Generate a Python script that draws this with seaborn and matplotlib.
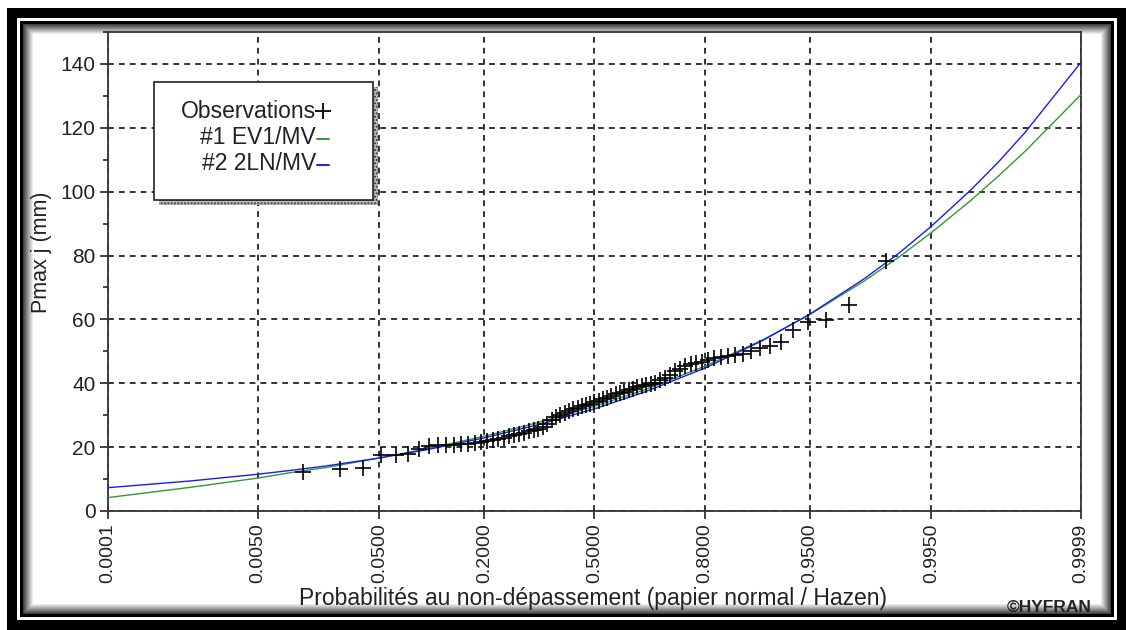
import numpy as np
import pandas as pd
import seaborn as sns
import matplotlib.pyplot as plt
import matplotlib as mpl
from matplotlib.patches import Rectangle
from matplotlib.lines import Line2D
from statistics import NormalDist

# observed maxima (mm), sorted
obs_values = [12.3, 13.0, 13.6, 17.4, 17.5, 18.0, 19.4, 20.5, 20.6, 20.6,
              20.7, 20.9, 21.1, 21.3, 21.6, 21.8, 22.2, 22.5, 23.0, 23.4,
              23.8, 24.2, 24.5, 24.9, 25.3, 25.6, 26.3, 27.4, 28.6, 29.5,
              30.0, 30.6, 31.4, 32.0, 32.3, 32.8, 33.1, 33.4, 34.2, 34.6,
              35.0, 35.5, 36.0, 36.5, 36.9, 37.3, 37.8, 38.3, 38.8, 39.2,
              39.5, 39.8, 40.2, 41.0, 41.8, 42.5, 43.8, 44.6, 45.3, 45.9,
              46.3, 46.7, 47.2, 47.8, 48.2, 48.5, 48.8, 49.3, 50.0, 51.0,
              51.7, 52.9, 56.6, 59.2, 59.9, 64.4, 78.2]

# fitted curves
curve_prob = [0.0001, 0.001, 0.005, 0.01, 0.02, 0.05, 0.1, 0.2, 0.35, 0.5,
              0.65, 0.8, 0.9, 0.95, 0.98, 0.99, 0.995, 0.998, 0.999, 0.9995, 0.9999]
ev1_values = [4.2, 7.4, 10.3, 12.0, 13.6, 16.6, 19.5, 23.4, 28.2, 32.8,
              38.0, 45.3, 53.5, 61.5, 71.8, 79.5, 87.2, 97.3, 105.0, 112.6, 130.4]
ln2_values = [7.3, 9.4, 11.5, 12.7, 14.1, 16.6, 19.2, 22.9, 27.5, 32.0,
              37.3, 44.7, 53.3, 61.6, 72.5, 80.7, 89.2, 100.6, 109.4, 118.5, 140.5]

tick_probs = [0.0001, 0.005, 0.05, 0.2, 0.5, 0.8, 0.95, 0.995, 0.9999]
tick_labels = ['0.0001', '0.0050', '0.0500', '0.2000', '0.5000',
               '0.8000', '0.9500', '0.9950', '0.9999']

W, H = 1126, 630


def fx(px):
    return px / W


def fy(py):
    return 1 - py / H


nd = NormalDist()
_ppf = np.vectorize(nd.inv_cdf, otypes=[float])
_cdf = np.vectorize(nd.cdf, otypes=[float])


def forward(p):
    return _ppf(np.clip(p, 1e-12, 1 - 1e-12))


def inverse(z):
    return _cdf(z)


sns.set_style('white')
plt.rcParams['font.family'] = ['Liberation Sans', 'DejaVu Sans']

fig = plt.figure(figsize=(W / 100, H / 100), dpi=100)
fig.patch.set_facecolor('white')

# window frame
fig.add_artist(Rectangle((fx(7), fy(630)), fx(1126) - fx(7), fy(8) - fy(630),
                         transform=fig.transFigure, facecolor='black', edgecolor='none', zorder=0))
fig.add_artist(Rectangle((fx(17), fy(620)), fx(1117) - fx(17), fy(18) - fy(620),
                         transform=fig.transFigure, facecolor='white', edgecolor='none', zorder=0))
fig.add_artist(Rectangle((fx(20), fy(617)), fx(1114) - fx(20), fy(21) - fy(617),
                         transform=fig.transFigure, facecolor='black', edgecolor='none', zorder=0))
for k in range(11):
    g = 0.25 + 0.075 * k
    fig.add_artist(Rectangle((fx(23 + k), fy(614 - k)), fx(1111 - k) - fx(23 + k), fy(24 + k) - fy(614 - k),
                             transform=fig.transFigure, facecolor=(min(g, 1),) * 3,
                             edgecolor='none', zorder=0))

ax = fig.add_axes([fx(108), fy(511), fx(1081) - fx(108), fy(32) - fy(511)])
ax.set_facecolor('white')

obs = pd.DataFrame({'p': [(i + 1) / (len(obs_values) + 1) for i in range(len(obs_values))],
                    'v': obs_values})
curves = pd.DataFrame({'p': curve_prob * 2,
                       'v': ev1_values + ln2_values,
                       'loi': ['#1 EV1/MV'] * len(curve_prob) + ['#2 2LN/MV'] * len(curve_prob)})

sns.lineplot(data=curves, x='p', y='v', hue='loi', sort=False, estimator=None,
             palette={'#1 EV1/MV': '#2f9a2f', '#2 2LN/MV': '#1a1aff'},
             linewidth=1.0, legend=False, ax=ax, zorder=3)
sns.scatterplot(data=obs, x='p', y='v', marker='+', color='black', s=140,
                linewidth=1.2, legend=False, ax=ax, zorder=4)

ax.set_xscale('function', functions=(forward, inverse))
ax.set_xlim(0.0001, 0.9999)
ax.set_ylim(0, 150)
ax.set_xticks(tick_probs)
ax.set_xticklabels(tick_labels, rotation=90)
ax.xaxis.set_minor_locator(mpl.ticker.NullLocator())
ax.yaxis.set_minor_locator(mpl.ticker.MultipleLocator(10))
ax.set_yticks([0, 20, 40, 60, 80, 100, 120, 140])

ax.grid(True, which='major', color='#333333', linestyle=(0, (3, 2.6)), linewidth=1.4)
ax.tick_params(axis='both', which='major', direction='out', length=6, width=1.2,
               labelsize=15, colors='#222222', pad=3, bottom=True, left=True)
ax.tick_params(axis='x', which='major', labelsize=14)
ax.tick_params(axis='y', which='minor', direction='out', length=3.5, width=1.2, left=True)
for s in ax.spines.values():
    s.set_color('#333333')
    s.set_linewidth(1.3)
    s.set_visible(True)

ax.set_xlabel('Probabilités au non-dépassement (papier normal / Hazen)', fontsize=16.5, color='#222222')
ax.set_ylabel('Pmax j (mm)', fontsize=15.5, color='#222222')
ax.xaxis.set_label_coords(0.498, -0.182)
ax.xaxis.label.set_va('center')
ax.yaxis.set_label_coords(-0.068, 0.54)
ax.yaxis.label.set_va('center')

# legend box with hatched shadow
fig.add_artist(Rectangle((fx(159), fy(205)), fx(378) - fx(159), fy(87) - fy(205),
                         transform=fig.transFigure, facecolor='#bbbbbb', edgecolor='#333333',
                         hatch='.....', linewidth=0, zorder=5))
fig.add_artist(Rectangle((fx(154), fy(200)), fx(373) - fx(154), fy(82) - fy(200),
                         transform=fig.transFigure, facecolor='white', edgecolor='#222222',
                         linewidth=1.2, zorder=6))
leg_rows = [('Observations', 111), ('#1 EV1/MV', 138), ('#2 2LN/MV', 164)]
for label, py in leg_rows:
    fig.text(fx(316), fy(py), label, ha='right', va='center', fontsize=16.5,
             color='#222222', zorder=7)
fig.add_artist(Line2D([fx(323)], [fy(111)], marker='+', markersize=12, markeredgewidth=1.3,
                      color='black', transform=fig.transFigure, zorder=7))
fig.add_artist(Line2D([fx(317), fx(329)], [fy(139), fy(139)], color='#2f9a2f', lw=1.4,
                      transform=fig.transFigure, zorder=7))
fig.add_artist(Line2D([fx(317), fx(329)], [fy(165), fy(165)], color='#1a1aff', lw=1.4,
                      transform=fig.transFigure, zorder=7))

fig.text(fx(1092), fy(608), '©HYFRAN', ha='right', va='center', fontsize=12.5,
         fontweight='bold', color='#222222')

fig.savefig('out.png', dpi=100)
